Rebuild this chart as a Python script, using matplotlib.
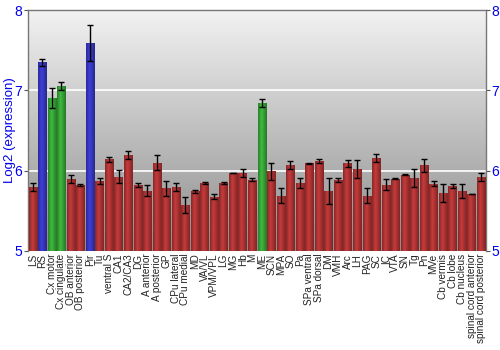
import numpy as np
import matplotlib
matplotlib.use("Agg")
import matplotlib.pyplot as plt
from matplotlib.colors import to_rgb

categories = ["LS", "RS", "Cx motor", "Cx cingulate", "OB anterior", "OB posterior", "Pir",
              "Tu", "ventral S", "CA1", "CA2/CA3", "DG", "A anterior", "A posterior", "GP",
              "CPu lateral", "CPu medial", "MD", "VA/VL", "VPM/VPL", "LG", "MG", "Hb", "M",
              "ME", "SCN", "MPA", "SO", "Pa", "SPa ventral", "SPa dorsal", "DM", "VMH", "Arc",
              "LH", "PAG", "SC", "IC", "VTA", "SN", "Tg", "Pn", "MVe", "Cb vermis", "Cb lobe",
              "Cb nucleus", "spinal cord anterior", "spinal cord posterior"]
values = [5.80, 7.35, 6.90, 7.05, 5.90, 5.825, 7.59,
          5.87, 6.14, 5.925, 6.19, 5.82, 5.75, 6.10, 5.78,
          5.80, 5.575, 5.745, 5.85, 5.675, 5.85, 5.97, 5.97, 5.89,
          6.84, 5.99, 5.69, 6.07, 5.85, 6.09, 6.12, 5.745, 5.883, 6.09,
          6.02, 5.69, 6.16, 5.825, 5.90, 5.95, 5.905, 6.067, 5.84, 5.725, 5.81,
          5.75, 5.71, 5.92]
errors = [0.05, 0.04, 0.125, 0.05, 0.05, 0.01, 0.22,
          0.04, 0.03, 0.08, 0.05, 0.025, 0.07, 0.09, 0.09,
          0.05, 0.10, 0.02, 0.01, 0.03, 0.01, 0.005, 0.05, 0.02,
          0.05, 0.11, 0.09, 0.05, 0.06, 0.005, 0.02, 0.16, 0.02, 0.04,
          0.11, 0.09, 0.05, 0.07, 0.005, 0.005, 0.11, 0.08, 0.03, 0.11, 0.025,
          0.09, 0.005, 0.045]
groups = ["r", "b", "g", "g", "r", "r", "b",
          "r", "r", "r", "r", "r", "r", "r", "r",
          "r", "r", "r", "r", "r", "r", "r", "r", "r",
          "g", "r", "r", "r", "r", "r", "r", "r", "r", "r",
          "r", "r", "r", "r", "r", "r", "r", "r", "r", "r", "r",
          "r", "r", "r"]
yticks = [5, 6, 7, 8]

base_colors = {"r": "#b23535", "b": "#3838c4", "g": "#38a838"}
plt.rcParams['font.family'] = ['Liberation Sans', 'DejaVu Sans']

fig = plt.figure(figsize=(5, 3.5), dpi=100)
ax = fig.add_axes([0.056, 0.283, 0.916, 0.688])
ymin, ymax = 5, 8
n = len(categories)
x = np.arange(n)
ax.set_xlim(-0.5, n - 0.5)
ax.set_ylim(ymin, ymax)

# background gradient
bg = np.linspace(0.55, 0.95, 256).reshape(-1, 1)
ax.imshow(np.dstack([bg, bg, bg]), extent=(-0.5, n - 0.5, ymin, ymax), origin="lower",
          aspect="auto", zorder=0, interpolation="bilinear")
for yv in [6, 7]:
    ax.axhline(yv, color="white", lw=1.2, zorder=1)

width = 0.88
bars = ax.bar(x, np.array(values) - ymin, bottom=ymin, width=width,
              color=[base_colors[g] for g in groups], zorder=2, linewidth=0)
prof = np.concatenate([np.linspace(0.75, 1.12, 40), np.linspace(1.12, 0.7, 60)])
for b, g in zip(bars, groups):
    c = np.array(to_rgb(base_colors[g]))
    img = np.clip(prof[None, :, None] * c[None, None, :], 0, 1)
    x0 = b.get_x()
    im = ax.imshow(img, extent=(x0, x0 + b.get_width(), ymin, b.get_y() + b.get_height()),
                   aspect="auto", zorder=3, interpolation="bilinear")
    im.set_clip_path(b)
    b.set_facecolor("none")
    b.set_zorder(3)

ax.errorbar(x, values, yerr=errors, fmt="none", ecolor="black", elinewidth=1,
            capsize=2.5, capthick=1, zorder=4)

ax.set_xticks(x)
ax.set_xticklabels(categories, rotation=90, fontsize=7.2, color="#222222")
ax.set_yticks(yticks)
ax.set_yticklabels([str(t) for t in yticks], fontsize=10, color="#0000ee")
ax.tick_params(axis="y", which="both", left=True, right=True, labelleft=True,
               labelright=True, length=3, color="#555555", pad=1)
ax.tick_params(axis="x", length=0, pad=2)
ax.set_ylabel("Log2 (expression)", color="#0000ee", fontsize=9.5)
ax.yaxis.set_label_coords(-0.026, 0.5)
for s in ["left", "right", "top"]:
    ax.spines[s].set_color("#777777")
    ax.spines[s].set_linewidth(1)
ax.spines["bottom"].set_visible(False)

fig.savefig("out.png", dpi=100)
